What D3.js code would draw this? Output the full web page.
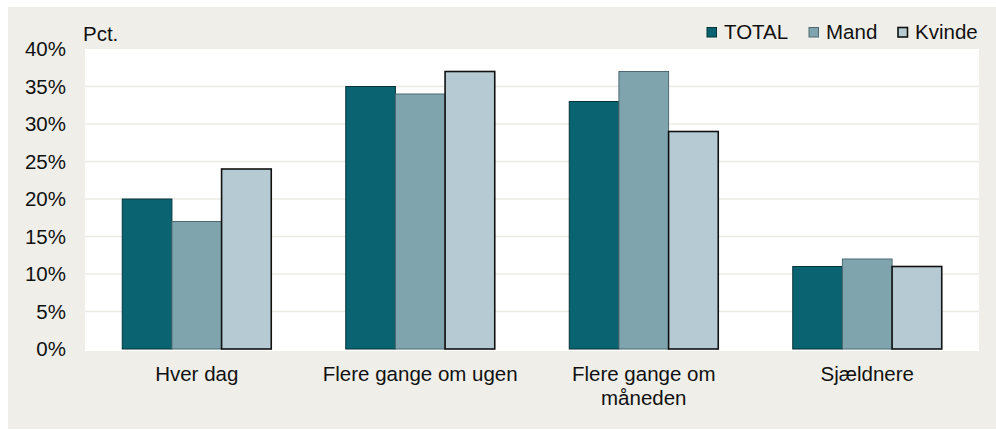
<!DOCTYPE html>
<html lang="da">
<head>
<meta charset="UTF-8">
<script src="https://d3js.org/d3.v7.min.js"></script>
<style>
  body { margin: 0; background: #fff; }
  text { font-family: "Liberation Sans", Arial, sans-serif; fill: #111; }
</style>
</head>
<body>
<div id="chart"></div>
<script>
// data
var categories = [["Hver dag"], ["Flere gange om ugen"], ["Flere gange om", "måneden"], ["Sjældnere"]];
var seriesNames = ["TOTAL", "Mand", "Kvinde"];
var total = [20, 35, 33, 11];
var mand = [17, 34, 37, 12];
var kvinde = [24, 37, 29, 11];
var yTicks = [0, 5, 10, 15, 20, 25, 30, 35, 40];

var colors = ["#0a6370", "#7fa4ad", "#b5cad2"];
var strokes = ["#06343b", "#4d6a72", "#111111"];
var strokeW = [1, 1, 1.6];
var fontSize = "20.5px";

var W = 996, H = 430;
var plot = { left: 85, right: 979, top: 49, bottom: 349 };

var svg = d3.select("#chart").append("svg")
    .attr("width", W)
    .attr("height", H);

// beige panel
svg.append("rect")
    .attr("x", 8).attr("y", 7)
    .attr("width", W - 8).attr("height", H - 7 - 1)
    .attr("fill", "#efeee8");

// white plot area
svg.append("rect")
    .attr("x", plot.left).attr("y", plot.top)
    .attr("width", plot.right - plot.left).attr("height", plot.bottom - plot.top + 2)
    .attr("fill", "#ffffff");

var x0 = d3.scaleBand()
    .domain(d3.range(categories.length))
    .range([plot.left, plot.right])
    .paddingInner(0).paddingOuter(0);

var x1 = d3.scaleBand()
    .domain(d3.range(seriesNames.length))
    .range([0, x0.bandwidth()])
    .paddingOuter(0.75).paddingInner(0);

var y = d3.scaleLinear().domain([0, 40]).range([plot.bottom, plot.top]);

// gridlines
svg.append("g").selectAll("line")
    .data(yTicks.filter(function (d) { return d > 0 && d < 40; }))
    .enter().append("line")
    .attr("x1", plot.left).attr("x2", plot.right)
    .attr("y1", function (d) { return y(d); })
    .attr("y2", function (d) { return y(d); })
    .attr("stroke", "#ecebe3")
    .attr("stroke-width", 1.5);

// y axis labels
var yAxis = d3.axisLeft(y)
    .tickValues(yTicks)
    .tickSize(0)
    .tickPadding(0)
    .tickFormat(function (d) { return d + "%"; });
var ya = svg.append("g")
    .attr("transform", "translate(66,0)")
    .call(yAxis);
ya.select(".domain").remove();
ya.selectAll("text")
    .attr("font-size", fontSize)
    .attr("font-family", "Liberation Sans, Arial, sans-serif")
    .attr("fill", "#111");

// bars
var series = [total, mand, kvinde];
series.forEach(function (vals, s) {
    svg.append("g").selectAll("rect")
        .data(vals)
        .enter().append("rect")
        .attr("x", function (d, i) { return x0(i) + x1(s); })
        .attr("y", function (d) { return y(d); })
        .attr("width", x1.bandwidth())
        .attr("height", function (d) { return y(0) - y(d); })
        .attr("fill", colors[s])
        .attr("stroke", strokes[s])
        .attr("stroke-width", strokeW[s]);
});

// category labels
categories.forEach(function (lines, i) {
    var t = svg.append("text")
        .attr("text-anchor", "middle")
        .attr("font-size", fontSize)
        .attr("x", x0(i) + x0.bandwidth() / 2)
        .attr("y", 381);
    lines.forEach(function (l, k) {
        t.append("tspan")
            .attr("x", x0(i) + x0.bandwidth() / 2)
            .attr("dy", k === 0 ? 0 : 24)
            .text(l);
    });
});

// unit label
svg.append("text")
    .attr("x", 83).attr("y", 41)
    .attr("font-size", fontSize)
    .text("Pct.");

// legend
var legX = [707, 809, 898];
seriesNames.forEach(function (n, s) {
    svg.append("rect")
        .attr("x", legX[s]).attr("y", 27.5)
        .attr("width", 9.5).attr("height", 9.5)
        .attr("fill", colors[s])
        .attr("stroke", s === 2 ? "#111" : strokes[s])
        .attr("stroke-width", s === 2 ? 1.6 : 1);
    svg.append("text")
        .attr("x", legX[s] + 17).attr("y", 39)
        .attr("font-size", fontSize)
        .text(n);
});
</script>
</body>
</html>
